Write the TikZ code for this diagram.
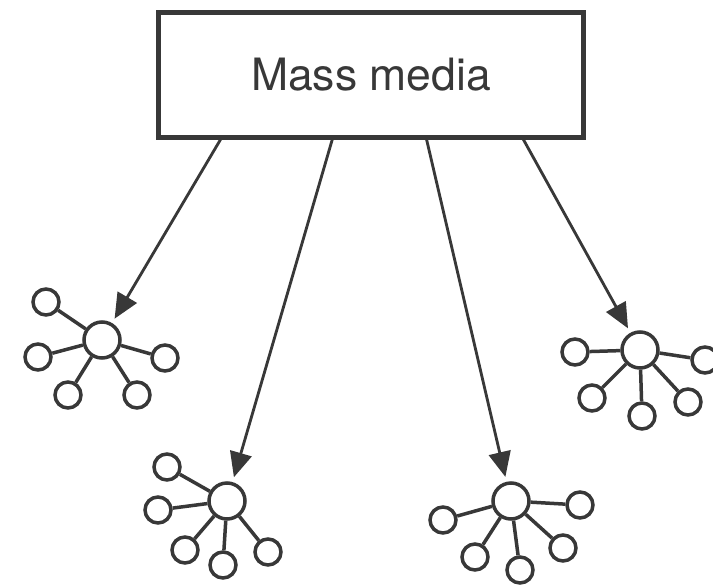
\documentclass[tikz,border=0pt]{standalone}
\usepackage{fontspec}
\setmainfont{TeX Gyre Heros}
\usetikzlibrary{arrows.meta}

\begin{document}
\begin{tikzpicture}[x=0.3mm,y=-0.3mm,line width=1.05mm,black!78,
	hub/.style={circle,draw,inner sep=0pt,minimum size=10.8mm},
	sat/.style={circle,draw,inner sep=0pt,minimum size=7.8mm},
	feed/.style={line width=0.85mm,-{Triangle[length=7.5mm,width=6.6mm]},shorten >=1.5mm}]
\useasboundingbox (0,0) rectangle (713,586);
\node[draw,line width=1.25mm,minimum width=127.5mm,minimum height=37.5mm,
	font=\fontsize{38}{40}\selectfont] (media) at (371,75) {Mass media};
% groups
\node[hub] (h1) at (102,340) {};
\node[hub] (h2) at (227,501) {};
\node[hub] (h3) at (511,501) {};
\node[hub] (h4) at (640,350) {};
\foreach \i/\p in {1/{(46,302)},2/{(38,357)},3/{(68,395)},4/{(137,395)},5/{(165,358)}}
	\node[sat] (h1s\i) at \p {};
\foreach \i/\p in {1/{(167,467)},2/{(158,510)},3/{(185,550)},4/{(223,565)},5/{(268,552)}}
	\node[sat] (h2s\i) at \p {};
\foreach \i/\p in {1/{(443,520)},2/{(475,557)},3/{(520,570)},4/{(563,548)},5/{(580,505)}}
	\node[sat] (h3s\i) at \p {};
\foreach \i/\p in {1/{(575,352)},2/{(592,398)},3/{(642,416)},4/{(688,402)},5/{(705,360)}}
	\node[sat] (h4s\i) at \p {};
\foreach \h in {1,...,4}
	\foreach \i in {1,...,5}
		\draw (h\h) -- (h\h s\i);
% arrows
\coordinate (m1) at (222,137);
\coordinate (m2) at (333,137);
\coordinate (m3) at (426,137);
\coordinate (m4) at (522,137);
\foreach \h in {1,...,4}
	\draw[feed] (m\h) -- (h\h);
\end{tikzpicture}
\end{document}
